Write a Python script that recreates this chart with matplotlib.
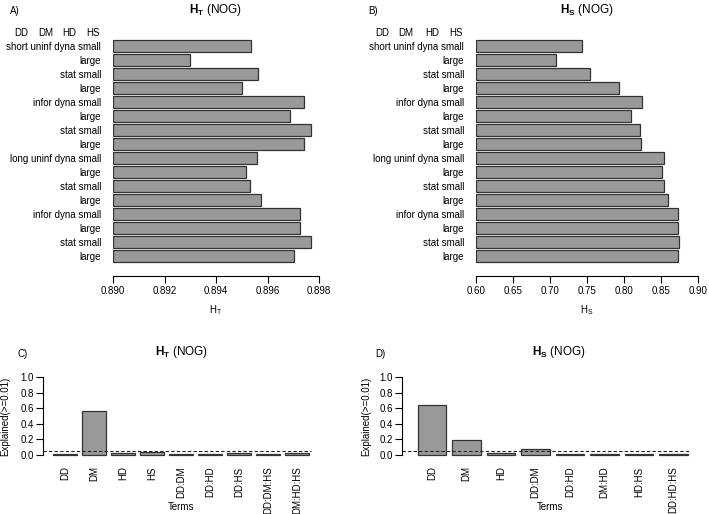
import matplotlib
matplotlib.use("Agg")
import matplotlib.pyplot as plt

plt.rcParams['font.family'] = ['Liberation Sans', 'DejaVu Sans']
plt.rcParams['mathtext.fontset'] = 'custom'
plt.rcParams['mathtext.rm'] = 'Liberation Sans'
plt.rcParams['mathtext.bf'] = 'Liberation Sans:bold'

# row labels of the horizontal bar panels (top to bottom)
row_labels = ["short uninf dyna small", "large", "stat small", "large",
              "infor dyna small", "large", "stat small", "large",
              "long uninf dyna small", "large", "stat small", "large",
              "infor dyna small", "large", "stat small", "large"]

# panel A: H_T values
ht_vals = [0.89536, 0.89299, 0.89562, 0.89502, 0.89743, 0.89686, 0.89768, 0.89740,
           0.89560, 0.89517, 0.89532, 0.89575, 0.89726, 0.89725, 0.89768, 0.89704]
ht_ticks = [0.890, 0.892, 0.894, 0.896, 0.898]

# panel B: H_S values
hs_vals = [0.7435, 0.7084, 0.7534, 0.7930, 0.8245, 0.8096, 0.8222, 0.8236,
           0.8541, 0.8519, 0.8541, 0.8596, 0.8736, 0.8723, 0.8741, 0.8732]
hs_ticks = [0.60, 0.65, 0.70, 0.75, 0.80, 0.85, 0.90]

# panel C: explained variance for H_T
c_terms = ["DD", "DM", "HD", "HS", "DD:DM", "DD:HD", "DD:HS", "DD:DM:HS", "DM:HD:HS"]
c_vals = [0.012, 0.57, 0.02, 0.04, 0.015, 0.012, 0.02, 0.012, 0.02]

# panel D: explained variance for H_S
d_terms = ["DD", "DM", "HD", "DD:DM", "DD:HD", "DM:HD", "HD:HS", "DD:HD:HS"]
d_vals = [0.647, 0.197, 0.02, 0.077, 0.015, 0.012, 0.015, 0.012]

cutoff = 0.05
header = ["DD", "DM", "HD", "HS"]

W, H = 709, 514
fig = plt.figure(figsize=(W / 100, H / 100), dpi=100)

BAR = "#999999"
EDGE = "#333333"


def px_axes(l, t, r, b):
    return fig.add_axes([l / W, 1 - b / H, (r - l) / W, (b - t) / H])


def hpanel(l, r, vals, ticks, title, xlab, tag, tagx, titlex, head_x, lab_pad):
    ax = px_axes(l, 31, r, 276)
    y = list(range(len(vals)))
    lo = ticks[0]
    ax.barh(y, [v - lo for v in vals], left=lo, height=1 / 1.2,
            color=BAR, edgecolor=EDGE, linewidth=0.9)
    ax.set_ylim(16.44, -1.06)
    ax.set_xlim(ticks[0], ticks[-1])
    for s in ["top", "right", "left"]:
        ax.spines[s].set_visible(False)
    ax.spines["bottom"].set_linewidth(0.8)
    ax.set_xticks(ticks)
    ax.set_xticklabels([f"{t:.3f}" if ticks[1] - ticks[0] < 0.01 else f"{t:.2f}" for t in ticks])
    ax.tick_params(axis="x", length=5, width=0.8, labelsize=7, pad=2.5)
    ax.set_yticks(y)
    ax.set_yticklabels(row_labels)
    ax.tick_params(axis="y", length=0, labelsize=7, pad=lab_pad)
    ax.set_xlabel(xlab, fontsize=7, labelpad=5)
    fig.text(titlex / W, 1 - 10 / H, title, fontsize=8.5, ha="center", va="center")
    fig.text(tagx / W, 1 - 11 / H, tag, fontsize=7, ha="center", va="center")
    for hx, h in zip(head_x, header):
        fig.text(hx / W, 1 - 33 / H, h, fontsize=7, ha="center", va="center")
    return ax


hpanel(113, 319, ht_vals, ht_ticks, r"$\mathbf{H_T}$ (NOG)", r"H$_\mathrm{T}$",
       "A)", 15, 216, [21, 46, 69, 93], 8.6)
hpanel(476, 698, hs_vals, hs_ticks, r"$\mathbf{H_S}$ (NOG)", r"H$_\mathrm{S}$",
       "B)", 373, 587, [382, 406, 432, 456], 8.6)


def vpanel(l, r, bar0, unit, terms, vals, title, tag, tagx, titlex, ylab_x):
    ax = px_axes(l, 374.2, r, 458.1)
    pos = [0.7 + 1.2 * i for i in range(len(terms))]
    ax.bar(pos, vals, width=1, color=BAR, edgecolor=EDGE, linewidth=0.9)
    left = 0.2 - (bar0 - l) / unit
    right = 0.2 + (r - bar0) / unit
    ax.set_xlim(left, right)
    ax.set_ylim(-0.04, 1.04)
    ax.axhline(cutoff, xmax=0.97, color="#222222", linestyle=(0, (3, 2)), linewidth=0.8)
    for s in ["top", "right", "bottom"]:
        ax.spines[s].set_visible(False)
    ax.spines["left"].set_bounds(0, 1)
    ax.spines["left"].set_linewidth(0.8)
    ax.set_yticks([0, 0.2, 0.4, 0.6, 0.8, 1.0])
    ax.set_yticklabels(["0.0", "0.2", "0.4", "0.6", "0.8", "1.0"])
    ax.tick_params(axis="y", length=5, width=0.8, labelsize=7, pad=1.5)
    ax.set_xticks(pos)
    ax.set_xticklabels(terms, rotation=90)
    ax.tick_params(axis="x", length=0, labelsize=7, pad=6)
    ax.set_ylabel("Explained(>=0.01)", fontsize=7)
    # ylabel anchor is the right edge of the rotated text
    ax.yaxis.set_label_coords((ylab_x - l) / (r - l), 0.5)
    fig.text(titlex / W, 1 - 352 / H, title, fontsize=8.5, ha="center", va="center")
    fig.text(tagx / W, 1 - 354 / H, tag, fontsize=7, ha="center", va="center")
    fig.text((l + r) / 2 / W, 1 - 507 / H, "Terms", fontsize=7, ha="center", va="center")
    return ax


vpanel(43, 319, 53.3, 24.15, c_terms, c_vals, r"$\mathbf{H_T}$ (NOG)", "C)", 23, 182, 10)
vpanel(402, 698, 417.5, 28.76, d_terms, d_vals, r"$\mathbf{H_S}$ (NOG)", "D)", 380, 559, 371)

fig.savefig("out.png", dpi=100)
